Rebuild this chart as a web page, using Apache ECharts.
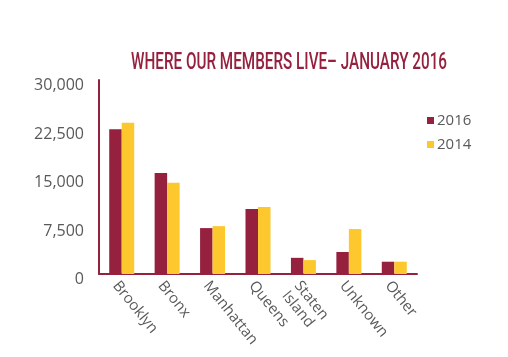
<!DOCTYPE html>
<html><head><meta charset="utf-8">
<script src="https://cdn.jsdelivr.net/npm/echarts@6/dist/echarts.min.js"></script>
<style>html,body{margin:0;padding:0;background:#fff}#c{width:508px;height:357px}</style>
</head><body><div id="c"></div>
<script>
var categories = ['Brooklyn', 'Bronx', 'Manhattan', 'Queens', 'Staten\nIsland', 'Unknown', 'Other'];
var values2016 = [22400, 15600, 7100, 10050, 2500, 3400, 1900];
var values2014 = [23400, 14100, 7400, 10350, 2150, 6950, 1900];
var yTicks = [0, 7500, 15000, 22500, 30000];
var titleText = 'WHERE OUR MEMBERS LIVE\u2013 JANUARY 2016';

var maroon = '#96213f', yellow = '#fcc82e', gray = '#58595b';
var titleFont = '500 24px Roboto';
var cv = document.createElement('canvas').getContext('2d');
cv.font = titleFont;
var titleScale = 316 / cv.measureText(titleText).width;

var chart = echarts.init(document.getElementById('c'));
chart.setOption({
  animation: false,
  graphic: [{
    type: 'text', x: 131, y: 51, scaleX: titleScale, scaleY: 1,
    style: { text: titleText, font: titleFont, fill: maroon, textAlign: 'left', textVerticalAlign: 'top' }
  }],
  legend: {
    orient: 'vertical', left: 427, top: 113, padding: 0, itemWidth: 7, itemHeight: 7, itemGap: 9,
    icon: 'rect',
    textStyle: { fontFamily: 'Open Sans', fontSize: 15, color: gray, padding: [0, 0, 0, -2] },
    data: ['2016', '2014']
  },
  grid: { left: 99, right: 91, top: 80, bottom: 83, containLabel: false },
  xAxis: {
    type: 'category', data: categories,
    axisLine: { lineStyle: { color: maroon, width: 2 } },
    axisTick: { show: false },
    axisLabel: { rotate: -51, margin: 4, verticalAlign: 'top', fontFamily: 'Open Sans', fontSize: 15, color: gray, lineHeight: 16, interval: 0 }
  },
  yAxis: {
    type: 'value', min: yTicks[0], max: yTicks[yTicks.length - 1], interval: yTicks[1] - yTicks[0],
    splitLine: { show: false },
    axisLine: { show: true, lineStyle: { color: maroon, width: 2 } },
    axisTick: { show: false },
    axisLabel: {
      margin: 15, fontFamily: 'Open Sans', fontSize: 16, color: gray, verticalAlign: 'top', lineHeight: 11,
      formatter: function (v) { return v.toLocaleString('en-US'); }
    }
  },
  series: [
    { name: '2016', type: 'bar', data: values2016, barWidth: 12.5, barGap: '0%', itemStyle: { color: maroon } },
    { name: '2014', type: 'bar', data: values2014, barWidth: 12.5, barGap: '0%', itemStyle: { color: yellow } }
  ]
});
</script></body></html>
